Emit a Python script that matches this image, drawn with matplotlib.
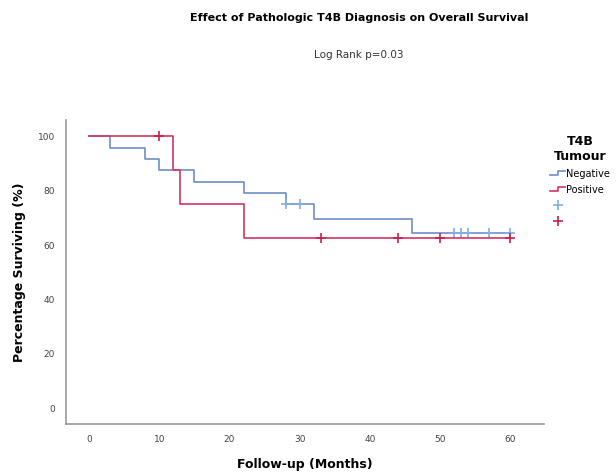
import matplotlib
matplotlib.use("Agg")
import matplotlib.pyplot as plt
from matplotlib.legend_handler import HandlerBase
from matplotlib.lines import Line2D

# Kaplan-Meier steps (months, % surviving)
neg_times = [0, 3, 8, 10, 15, 22, 28, 32, 46, 60]
neg_surv = [100, 95.8, 91.7, 87.5, 83.3, 79.2, 75.0, 69.4, 64.4, 64.4]
neg_cens_t = [28, 30, 52, 53, 54, 57, 60]
neg_cens_s = [75.0, 75.0, 64.4, 64.4, 64.4, 64.4, 64.4]

pos_times = [0, 12, 13, 22, 60]
pos_surv = [100, 87.5, 75.0, 62.5, 62.5]
pos_cens_t = [10, 33, 44, 50, 60]
pos_cens_s = [100, 62.5, 62.5, 62.5, 62.5]

groups = ["Negative", "Positive"]
line_colors = ["#6d8ecb", "#d8345f"]
cens_colors = ["#7fb0e0", "#c8214a"]

x_ticks = [0, 10, 20, 30, 40, 50, 60]
y_ticks = [0, 20, 40, 60, 80, 100]


class StepHandler(HandlerBase):
    def create_artists(self, legend, orig, xd, yd, w, h, fontsize, trans):
        xs = [xd, xd + w * 0.5, xd + w * 0.5, xd + w]
        ys = [yd + h * 0.2, yd + h * 0.2, yd + h * 0.8, yd + h * 0.8]
        ln = Line2D(xs, ys, color=orig.get_color(), lw=1.2, transform=trans)
        return [ln]


fig = plt.figure(figsize=(6.16, 4.74), dpi=100)
ax = fig.add_axes([0.107, 0.105, 0.776, 0.642])

series = [(neg_times, neg_surv, neg_cens_t, neg_cens_s),
          (pos_times, pos_surv, pos_cens_t, pos_cens_s)]
step_handles = []
cens_handles = []
for (t, s, ct, cs), lc, cc, name in zip(series, line_colors, cens_colors, groups):
    h, = ax.step(t, s, where="post", color=lc, lw=1.2, label=name)
    step_handles.append(h)
    c, = ax.plot(ct, cs, ls="none", marker="+", ms=6.5, mew=1.2, color=cc)
    cens_handles.append(c)

ax.set_xlim(-3.3, 64.8)
ax.set_ylim(-5.9, 106)
ax.set_xticks(x_ticks)
ax.set_yticks(y_ticks)
ax.tick_params(length=0, labelsize=6.5, labelcolor="#444444", pad=8)
for side in ["top", "right"]:
    ax.spines[side].set_visible(False)
for side in ["left", "bottom"]:
    ax.spines[side].set_color("#999999")
    ax.spines[side].set_linewidth(1.2)

ax.set_xlabel("Follow-up (Months)", fontsize=9, fontweight="bold", labelpad=10)
ax.set_ylabel("Percentage Surviving (%)", fontsize=9, fontweight="bold", labelpad=8)

fig.text(0.583, 0.963, "Effect of Pathologic T4B Diagnosis on Overall Survival",
         ha="center", va="center", fontsize=8, fontweight="bold")
fig.text(0.583, 0.884, "Log Rank p=0.03", ha="center", va="center",
         fontsize=7.5, color="#333333")

leg = ax.legend(step_handles + cens_handles, groups + [" ", " "],
                handler_map={h: StepHandler() for h in step_handles},
                title="T4B\nTumour", loc="upper left", bbox_to_anchor=(1.0, 0.97),
                frameon=False, fontsize=7, handlelength=1.6, handletextpad=0.1,
                labelspacing=0.6, borderaxespad=0.2)
leg.get_title().set_fontweight("bold")
leg.get_title().set_fontsize(9)
leg.get_title().set_multialignment("center")

fig.savefig("out.png", dpi=100)
